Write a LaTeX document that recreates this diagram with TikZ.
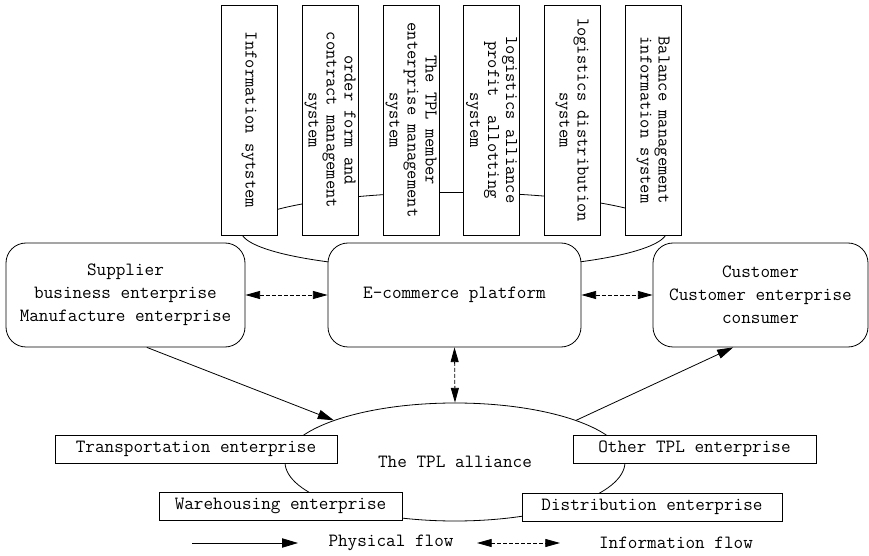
\documentclass[tikz,border=0pt]{standalone}
\usetikzlibrary{arrows.meta,shapes.geometric}
\begin{document}
\begin{tikzpicture}[x=0.75pt,y=-0.75pt,line width=0.6pt,
  every node/.style={font=\ttfamily\fontsize{14}{17.25}\selectfont},
  sysbox/.style={draw,fill=white,rotate=-90,minimum width=172.5pt,minimum height=42pt,
    inner sep=0pt,align=center,font=\ttfamily\fontsize{13.5}{13.5}\selectfont},
  bigbox/.style={draw,fill=white,rounded corners=15pt,minimum height=78pt,inner sep=0pt,align=center},
  unitbox/.style={draw,fill=white,minimum height=21pt,inner sep=0pt},
  phys/.style={-{Triangle[length=12pt,width=7pt]}},
  info/.style={{Triangle[length=11pt,width=6pt]}-{Triangle[length=11pt,width=6pt]},dash pattern=on 3pt off 1.5pt}
]
\useasboundingbox (0,0) rectangle (869,556);

% curve tying the subsystems to the platform
\draw (454,230.9) ellipse [x radius=159.75pt, y radius=28.8pt];

% subsystems
\node[sysbox] (s1) at (249,120) {Information sytstem};
\node[sysbox] (s2) at (330,120) {order form and\\contract management\\system};
\node[sysbox] (s3) at (411,120) {The TPL member\\enterprise management\\system};
\node[sysbox] (s4) at (491.5,120) {logistics alliance\\profit~~allotting\\system};
\node[sysbox] (s5) at (572,120) {logistics distribution\\system};
\node[sysbox] (s6) at (653,120) {Balance management\\information system};

% main parties
\node[bigbox,minimum width=179.25pt] (sup) at (125.5,295) {Supplier\\business enterprise\\Manufacture enterprise};
\node[bigbox,minimum width=189.75pt] (ecom) at (454.5,295) {E-commerce platform};
\node[bigbox,minimum width=161.25pt] (cust) at (760.5,295) {Customer\\Customer enterprise\\consumer};

% alliance
\node[draw,ellipse,minimum width=255pt,minimum height=88.5pt,inner sep=0pt] (tpl) at (455,462) {The TPL alliance};
\node[unitbox,minimum width=211.5pt] (trans) at (196,449) {Transportation enterprise};
\node[unitbox,minimum width=182.25pt] (ware) at (280.5,506) {Warehousing enterprise};
\node[unitbox,minimum width=182.25pt] (other) at (694.5,449) {Other TPL enterprise};
\node[unitbox,minimum width=195pt] (dist) at (652,507) {Distribution enterprise};

% flows
\draw[info] (sup.east) -- (ecom.west);
\draw[info] (ecom.east) -- (cust.west);
\draw[info] (ecom.south) -- (tpl.north);
\draw[phys] ([xshift=16pt]sup.south) -- (tpl.161);
\draw[phys] (tpl.19) -- ([xshift=-20.5pt]cust.south);

% legend
\coordinate (pa) at (192,543);
\coordinate (pb) at (298,543);
\coordinate (ia) at (477,543);
\coordinate (ib) at (560,543);
\draw[phys] (pa) -- (pb);
\node (plabel) at (391,543) {Physical flow};
\draw[info] (ia) -- (ib);
\node (ilabel) at (676,543) {Information flow};
\end{tikzpicture}
\end{document}
